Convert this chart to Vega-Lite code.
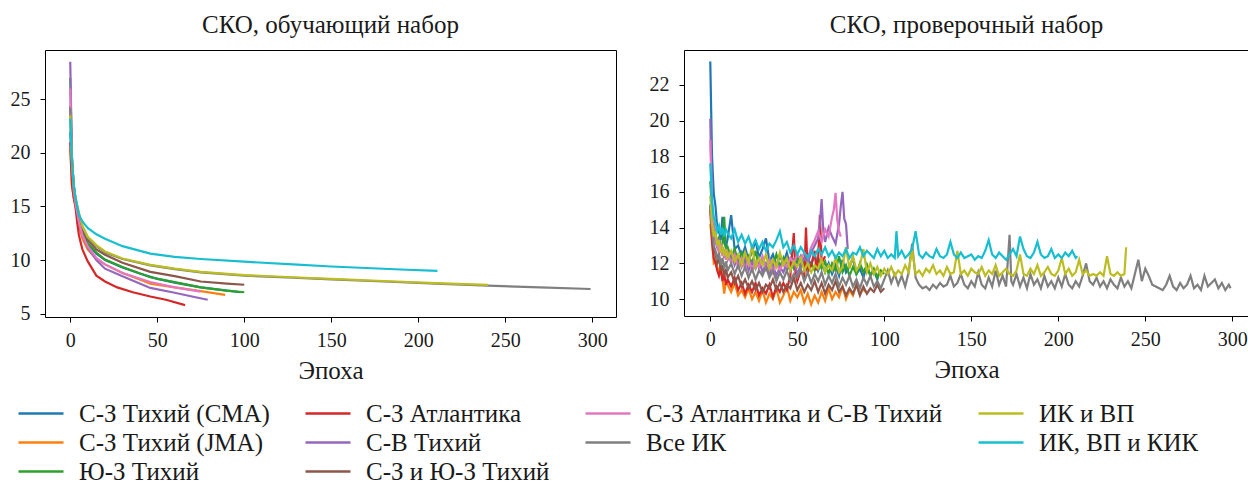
{
"$schema":"https://vega.github.io/schema/vega-lite/v6.json",
"padding":{"left":9,"top":12,"right":0,"bottom":0},
"background":"white",
"config":{
"font":"Liberation Serif, Times New Roman, Times, serif",
"view":{"stroke":"#000","strokeWidth":1},
"axis":{"grid":false,"domain":false,"tickColor":"#000","tickSize":5,"tickWidth":1,"labelFont":"Liberation Serif, Times New Roman, Times, serif","labelFontSize":20,"labelColor":"#1a1a1a","titleFont":"Liberation Serif, Times New Roman, Times, serif","titleFontSize":25,"titleFontWeight":"normal","titleColor":"#1a1a1a","titlePadding":8},
"axisX":{"labelPadding":8},
"axisY":{"labelPadding":10},
"title":{"font":"Liberation Serif, Times New Roman, Times, serif","fontSize":25,"fontWeight":"normal","color":"#1a1a1a","offset":12},
"legend":{"orient":"none","legendX":-28,"legendY":349,"direction":"horizontal","columns":4,"symbolType":"stroke","symbolSize":2025,"symbolStrokeWidth":2.5,"labelFont":"Liberation Serif, Times New Roman, Times, serif","labelFontSize":25,"labelColor":"#1a1a1a","labelOffset":14,"columnPadding":34,"rowPadding":0,"clipHeight":29,"labelLimit":500}
},
"datasets":{
"names":[{"s":"a","n":"С-З Тихий (CMA)"},{"s":"b","n":"С-З Тихий (JMA)"},{"s":"c","n":"Ю-З Тихий"},{"s":"d","n":"С-З Атлантика"},{"s":"e","n":"С-В Тихий"},{"s":"f","n":"С-З и Ю-З Тихий"},{"s":"g","n":"С-З Атлантика и С-В Тихий"},{"s":"h","n":"Все ИК"},{"s":"i","n":"ИК и ВП"},{"s":"j","n":"ИК, ВП и КИК"}],
"train":[
{"s":"a","x":0,"y":22.0},{"s":"a","x":1,"y":18.0},{"s":"a","x":2,"y":16.3},{"s":"a","x":3,"y":15.3},{"s":"a","x":5,"y":13.6},{"s":"a","x":7,"y":12.5},{"s":"a","x":10,"y":11.5},{"s":"a","x":15,"y":10.6},{"s":"a","x":20,"y":10.0},{"s":"a","x":30,"y":9.3},{"s":"a","x":40,"y":8.75},{"s":"a","x":50,"y":8.25},{"s":"a","x":60,"y":7.9},{"s":"a","x":75,"y":7.45},{"s":"a","x":90,"y":7.15},{"s":"a","x":98,"y":7.0},
{"s":"b","x":0,"y":20.4},{"s":"b","x":1,"y":17.0},{"s":"b","x":2,"y":15.8},{"s":"b","x":3,"y":15.0},{"s":"b","x":5,"y":13.2},{"s":"b","x":7,"y":12.0},{"s":"b","x":10,"y":11.0},{"s":"b","x":15,"y":10.1},{"s":"b","x":20,"y":9.6},{"s":"b","x":30,"y":8.8},{"s":"b","x":40,"y":8.2},{"s":"b","x":46,"y":7.8},{"s":"b","x":60,"y":7.45},{"s":"b","x":75,"y":7.1},{"s":"b","x":89,"y":6.75},
{"s":"c","x":0,"y":27.0},{"s":"c","x":1,"y":19.5},{"s":"c","x":2,"y":17.0},{"s":"c","x":3,"y":15.7},{"s":"c","x":5,"y":14.0},{"s":"c","x":7,"y":12.8},{"s":"c","x":10,"y":11.6},{"s":"c","x":15,"y":10.7},{"s":"c","x":20,"y":10.05},{"s":"c","x":30,"y":9.35},{"s":"c","x":46,"y":8.4},{"s":"c","x":60,"y":7.95},{"s":"c","x":75,"y":7.45},{"s":"c","x":90,"y":7.15},{"s":"c","x":100,"y":7.0},
{"s":"d","x":0,"y":21.0},{"s":"d","x":1,"y":17.0},{"s":"d","x":2,"y":15.8},{"s":"d","x":3,"y":15.0},{"s":"d","x":4,"y":13.5},{"s":"d","x":5,"y":12.3},{"s":"d","x":7,"y":11.0},{"s":"d","x":10,"y":9.9},{"s":"d","x":15,"y":8.55},{"s":"d","x":20,"y":8.0},{"s":"d","x":27,"y":7.45},{"s":"d","x":36,"y":7.0},{"s":"d","x":46,"y":6.6},{"s":"d","x":55,"y":6.3},{"s":"d","x":66,"y":5.8},
{"s":"e","x":0,"y":28.5},{"s":"e","x":1,"y":19.5},{"s":"e","x":2,"y":16.8},{"s":"e","x":3,"y":15.5},{"s":"e","x":5,"y":13.6},{"s":"e","x":7,"y":12.3},{"s":"e","x":10,"y":11.2},{"s":"e","x":15,"y":10.0},{"s":"e","x":20,"y":9.2},{"s":"e","x":30,"y":8.5},{"s":"e","x":46,"y":7.4},{"s":"e","x":60,"y":6.95},{"s":"e","x":70,"y":6.6},{"s":"e","x":79,"y":6.3},
{"s":"f","x":0,"y":24.4},{"s":"f","x":1,"y":19.0},{"s":"f","x":2,"y":16.8},{"s":"f","x":3,"y":15.6},{"s":"f","x":5,"y":14.0},{"s":"f","x":7,"y":12.9},{"s":"f","x":10,"y":11.9},{"s":"f","x":15,"y":11.0},{"s":"f","x":20,"y":10.5},{"s":"f","x":30,"y":9.75},{"s":"f","x":46,"y":8.9},{"s":"f","x":60,"y":8.5},{"s":"f","x":75,"y":8.0},{"s":"f","x":90,"y":7.8},{"s":"f","x":100,"y":7.7},
{"s":"g","x":0,"y":26.0},{"s":"g","x":1,"y":19.0},{"s":"g","x":2,"y":16.5},{"s":"g","x":3,"y":15.3},{"s":"g","x":5,"y":13.6},{"s":"g","x":7,"y":12.3},{"s":"g","x":10,"y":11.3},{"s":"g","x":15,"y":10.2},{"s":"g","x":20,"y":9.6},{"s":"g","x":30,"y":8.8},{"s":"g","x":46,"y":7.95},{"s":"g","x":60,"y":7.45},{"s":"g","x":75,"y":7.05},
{"s":"h","x":0,"y":24.2},{"s":"h","x":1,"y":19.5},{"s":"h","x":2,"y":17.0},{"s":"h","x":3,"y":15.8},{"s":"h","x":5,"y":14.3},{"s":"h","x":7,"y":13.1},{"s":"h","x":10,"y":12.1},{"s":"h","x":15,"y":11.3},{"s":"h","x":20,"y":10.7},{"s":"h","x":30,"y":10.1},{"s":"h","x":46,"y":9.5},{"s":"h","x":60,"y":9.15},{"s":"h","x":75,"y":8.85},{"s":"h","x":100,"y":8.55},{"s":"h","x":128,"y":8.35},{"s":"h","x":150,"y":8.2},{"s":"h","x":180,"y":8.0},{"s":"h","x":210,"y":7.8},{"s":"h","x":240,"y":7.62},{"s":"h","x":270,"y":7.45},{"s":"h","x":299,"y":7.3},
{"s":"i","x":0,"y":23.5},{"s":"i","x":1,"y":19.3},{"s":"i","x":2,"y":17.0},{"s":"i","x":3,"y":15.8},{"s":"i","x":5,"y":14.4},{"s":"i","x":7,"y":13.2},{"s":"i","x":10,"y":12.2},{"s":"i","x":15,"y":11.4},{"s":"i","x":20,"y":10.8},{"s":"i","x":30,"y":10.15},{"s":"i","x":46,"y":9.55},{"s":"i","x":60,"y":9.2},{"s":"i","x":75,"y":8.9},{"s":"i","x":100,"y":8.6},{"s":"i","x":128,"y":8.4},{"s":"i","x":150,"y":8.25},{"s":"i","x":180,"y":8.05},{"s":"i","x":210,"y":7.85},{"s":"i","x":240,"y":7.68},
{"s":"j","x":0,"y":23.2},{"s":"j","x":1,"y":19.0},{"s":"j","x":2,"y":17.0},{"s":"j","x":3,"y":15.8},{"s":"j","x":5,"y":14.2},{"s":"j","x":7,"y":13.6},{"s":"j","x":10,"y":13.0},{"s":"j","x":15,"y":12.4},{"s":"j","x":20,"y":12.0},{"s":"j","x":30,"y":11.3},{"s":"j","x":46,"y":10.6},{"s":"j","x":60,"y":10.3},{"s":"j","x":75,"y":10.1},{"s":"j","x":100,"y":9.85},{"s":"j","x":128,"y":9.6},{"s":"j","x":150,"y":9.4},{"s":"j","x":170,"y":9.26},{"s":"j","x":190,"y":9.12},{"s":"j","x":211,"y":9.0}
],
"val":[
{"s":"a","x":0,"y":23.3},{"s":"a","x":1,"y":18.0},{"s":"a","x":2,"y":15.9},{"s":"a","x":3,"y":15.2},{"s":"a","x":4,"y":14.0},{"s":"a","x":5,"y":13.8},{"s":"a","x":6,"y":13.3},{"s":"a","x":7,"y":14.6},{"s":"a","x":8,"y":13.2},{"s":"a","x":9,"y":12.9},{"s":"a","x":10,"y":13.4},{"s":"a","x":12,"y":14.7},{"s":"a","x":14,"y":12.8},{"s":"a","x":16,"y":13.0},{"s":"a","x":18,"y":12.4},{"s":"a","x":20,"y":12.9},{"s":"a","x":22,"y":12.2},{"s":"a","x":24,"y":12.6},{"s":"a","x":26,"y":13.3},{"s":"a","x":28,"y":12.3},{"s":"a","x":30,"y":12.8},{"s":"a","x":32,"y":13.4},{"s":"a","x":34,"y":12.1},{"s":"a","x":36,"y":12.5},{"s":"a","x":38,"y":11.9},{"s":"a","x":40,"y":12.4},{"s":"a","x":42,"y":12.0},{"s":"a","x":44,"y":12.6},{"s":"a","x":46,"y":11.8},{"s":"a","x":48,"y":12.2},{"s":"a","x":50,"y":12.0},{"s":"a","x":52,"y":12.4},{"s":"a","x":54,"y":11.7},{"s":"a","x":56,"y":12.3},{"s":"a","x":58,"y":11.9},{"s":"a","x":60,"y":12.5},{"s":"a","x":62,"y":11.6},{"s":"a","x":64,"y":12.1},{"s":"a","x":66,"y":11.5},{"s":"a","x":68,"y":12.0},{"s":"a","x":70,"y":11.4},{"s":"a","x":72,"y":11.9},{"s":"a","x":74,"y":11.3},{"s":"a","x":76,"y":12.2},{"s":"a","x":78,"y":11.5},{"s":"a","x":80,"y":11.8},{"s":"a","x":82,"y":12.3},{"s":"a","x":84,"y":11.4},{"s":"a","x":86,"y":11.7},{"s":"a","x":88,"y":11.2},{"s":"a","x":90,"y":11.9},{"s":"a","x":92,"y":11.3},{"s":"a","x":94,"y":11.6},{"s":"a","x":96,"y":11.1},{"s":"a","x":97,"y":11.5},
{"s":"b","x":0,"y":14.2},{"s":"b","x":1,"y":13.3},{"s":"b","x":2,"y":12.0},{"s":"b","x":3,"y":12.1},{"s":"b","x":4,"y":11.8},{"s":"b","x":5,"y":11.5},{"s":"b","x":6,"y":11.9},{"s":"b","x":7,"y":11.2},{"s":"b","x":8,"y":10.3},{"s":"b","x":9,"y":11.0},{"s":"b","x":10,"y":10.8},{"s":"b","x":12,"y":10.4},{"s":"b","x":14,"y":10.9},{"s":"b","x":16,"y":10.2},{"s":"b","x":18,"y":10.5},{"s":"b","x":20,"y":10.1},{"s":"b","x":22,"y":10.6},{"s":"b","x":24,"y":10.0},{"s":"b","x":26,"y":10.4},{"s":"b","x":28,"y":9.9},{"s":"b","x":30,"y":10.5},{"s":"b","x":32,"y":9.8},{"s":"b","x":34,"y":10.3},{"s":"b","x":36,"y":10.0},{"s":"b","x":38,"y":10.6},{"s":"b","x":40,"y":9.8},{"s":"b","x":42,"y":10.2},{"s":"b","x":44,"y":10.7},{"s":"b","x":46,"y":9.9},{"s":"b","x":48,"y":10.4},{"s":"b","x":50,"y":10.1},{"s":"b","x":52,"y":10.5},{"s":"b","x":54,"y":9.8},{"s":"b","x":56,"y":10.3},{"s":"b","x":58,"y":9.7},{"s":"b","x":60,"y":10.2},{"s":"b","x":62,"y":9.8},{"s":"b","x":64,"y":10.4},{"s":"b","x":66,"y":9.9},{"s":"b","x":68,"y":10.6},{"s":"b","x":70,"y":10.0},{"s":"b","x":72,"y":10.4},{"s":"b","x":74,"y":10.1},{"s":"b","x":76,"y":10.7},{"s":"b","x":78,"y":10.0},{"s":"b","x":80,"y":10.5},{"s":"b","x":82,"y":10.2},{"s":"b","x":84,"y":10.8},{"s":"b","x":86,"y":10.3},{"s":"b","x":88,"y":10.6},{"s":"b","x":89,"y":10.4},
{"s":"c","x":0,"y":16.6},{"s":"c","x":1,"y":15.0},{"s":"c","x":2,"y":14.2},{"s":"c","x":3,"y":13.6},{"s":"c","x":4,"y":13.0},{"s":"c","x":5,"y":13.5},{"s":"c","x":6,"y":12.8},{"s":"c","x":7,"y":13.1},{"s":"c","x":8,"y":14.6},{"s":"c","x":9,"y":12.7},{"s":"c","x":10,"y":12.9},{"s":"c","x":12,"y":12.3},{"s":"c","x":14,"y":12.8},{"s":"c","x":16,"y":12.1},{"s":"c","x":18,"y":12.6},{"s":"c","x":20,"y":11.9},{"s":"c","x":22,"y":12.4},{"s":"c","x":24,"y":12.0},{"s":"c","x":26,"y":12.7},{"s":"c","x":28,"y":11.8},{"s":"c","x":30,"y":12.3},{"s":"c","x":32,"y":11.7},{"s":"c","x":34,"y":12.2},{"s":"c","x":36,"y":11.9},{"s":"c","x":38,"y":12.5},{"s":"c","x":40,"y":11.8},{"s":"c","x":42,"y":12.3},{"s":"c","x":44,"y":11.6},{"s":"c","x":46,"y":12.1},{"s":"c","x":48,"y":11.7},{"s":"c","x":50,"y":12.4},{"s":"c","x":52,"y":11.8},{"s":"c","x":54,"y":12.2},{"s":"c","x":56,"y":11.5},{"s":"c","x":58,"y":12.0},{"s":"c","x":60,"y":11.6},{"s":"c","x":62,"y":12.3},{"s":"c","x":64,"y":11.7},{"s":"c","x":66,"y":12.1},{"s":"c","x":68,"y":11.4},{"s":"c","x":70,"y":12.0},{"s":"c","x":72,"y":11.6},{"s":"c","x":74,"y":12.4},{"s":"c","x":76,"y":11.5},{"s":"c","x":78,"y":11.9},{"s":"c","x":80,"y":11.3},{"s":"c","x":82,"y":11.8},{"s":"c","x":84,"y":11.4},{"s":"c","x":86,"y":12.0},{"s":"c","x":88,"y":11.5},{"s":"c","x":90,"y":11.9},{"s":"c","x":92,"y":11.3},{"s":"c","x":94,"y":11.7},{"s":"c","x":96,"y":11.2},{"s":"c","x":98,"y":11.6},{"s":"c","x":100,"y":11.4},
{"s":"d","x":0,"y":15.0},{"s":"d","x":1,"y":13.2},{"s":"d","x":2,"y":12.3},{"s":"d","x":3,"y":12.0},{"s":"d","x":4,"y":11.6},{"s":"d","x":5,"y":11.3},{"s":"d","x":6,"y":11.7},{"s":"d","x":7,"y":11.0},{"s":"d","x":8,"y":11.4},{"s":"d","x":9,"y":10.8},{"s":"d","x":10,"y":11.1},{"s":"d","x":12,"y":10.7},{"s":"d","x":14,"y":11.2},{"s":"d","x":16,"y":10.5},{"s":"d","x":18,"y":10.9},{"s":"d","x":20,"y":10.3},{"s":"d","x":22,"y":10.8},{"s":"d","x":24,"y":10.4},{"s":"d","x":26,"y":10.9},{"s":"d","x":28,"y":10.2},{"s":"d","x":30,"y":10.6},{"s":"d","x":32,"y":10.3},{"s":"d","x":34,"y":10.8},{"s":"d","x":36,"y":10.1},{"s":"d","x":38,"y":10.7},{"s":"d","x":40,"y":10.4},{"s":"d","x":42,"y":10.9},{"s":"d","x":44,"y":10.5},{"s":"d","x":46,"y":11.3},{"s":"d","x":48,"y":13.7},{"s":"d","x":49,"y":11.4},{"s":"d","x":50,"y":11.0},{"s":"d","x":52,"y":11.6},{"s":"d","x":54,"y":11.2},{"s":"d","x":55,"y":14.0},{"s":"d","x":56,"y":11.5},{"s":"d","x":58,"y":11.9},{"s":"d","x":60,"y":12.7},{"s":"d","x":61,"y":11.6},{"s":"d","x":62,"y":12.2},{"s":"d","x":63,"y":14.7},{"s":"d","x":64,"y":12.0},{"s":"d","x":66,"y":12.4},
{"s":"e","x":0,"y":20.1},{"s":"e","x":1,"y":15.0},{"s":"e","x":2,"y":13.8},{"s":"e","x":3,"y":13.2},{"s":"e","x":4,"y":12.9},{"s":"e","x":5,"y":13.4},{"s":"e","x":6,"y":12.6},{"s":"e","x":7,"y":12.9},{"s":"e","x":8,"y":12.3},{"s":"e","x":9,"y":12.7},{"s":"e","x":10,"y":12.2},{"s":"e","x":12,"y":12.6},{"s":"e","x":14,"y":11.9},{"s":"e","x":16,"y":12.4},{"s":"e","x":18,"y":11.8},{"s":"e","x":20,"y":12.3},{"s":"e","x":22,"y":11.6},{"s":"e","x":24,"y":12.1},{"s":"e","x":26,"y":11.7},{"s":"e","x":28,"y":12.2},{"s":"e","x":30,"y":11.5},{"s":"e","x":32,"y":12.0},{"s":"e","x":34,"y":11.4},{"s":"e","x":36,"y":11.9},{"s":"e","x":38,"y":11.3},{"s":"e","x":40,"y":11.8},{"s":"e","x":42,"y":11.5},{"s":"e","x":44,"y":12.0},{"s":"e","x":46,"y":11.6},{"s":"e","x":48,"y":12.1},{"s":"e","x":50,"y":11.4},{"s":"e","x":52,"y":11.9},{"s":"e","x":54,"y":12.3},{"s":"e","x":56,"y":12.0},{"s":"e","x":58,"y":12.6},{"s":"e","x":60,"y":13.0},{"s":"e","x":62,"y":13.4},{"s":"e","x":63,"y":14.2},{"s":"e","x":64,"y":15.6},{"s":"e","x":65,"y":13.7},{"s":"e","x":66,"y":13.2},{"s":"e","x":68,"y":14.0},{"s":"e","x":70,"y":13.5},{"s":"e","x":72,"y":13.1},{"s":"e","x":74,"y":14.2},{"s":"e","x":75,"y":15.2},{"s":"e","x":76,"y":16.0},{"s":"e","x":77,"y":14.5},{"s":"e","x":78,"y":14.2},{"s":"e","x":79,"y":12.8},
{"s":"f","x":0,"y":15.3},{"s":"f","x":1,"y":13.8},{"s":"f","x":2,"y":12.8},{"s":"f","x":3,"y":12.5},{"s":"f","x":4,"y":12.0},{"s":"f","x":5,"y":12.3},{"s":"f","x":6,"y":11.6},{"s":"f","x":7,"y":11.9},{"s":"f","x":8,"y":11.3},{"s":"f","x":9,"y":11.7},{"s":"f","x":10,"y":11.2},{"s":"f","x":12,"y":11.5},{"s":"f","x":14,"y":10.9},{"s":"f","x":16,"y":11.3},{"s":"f","x":18,"y":10.7},{"s":"f","x":20,"y":11.1},{"s":"f","x":22,"y":10.6},{"s":"f","x":24,"y":11.0},{"s":"f","x":26,"y":10.5},{"s":"f","x":28,"y":10.9},{"s":"f","x":30,"y":10.4},{"s":"f","x":32,"y":10.8},{"s":"f","x":34,"y":10.6},{"s":"f","x":36,"y":11.1},{"s":"f","x":38,"y":10.5},{"s":"f","x":40,"y":10.9},{"s":"f","x":42,"y":10.4},{"s":"f","x":44,"y":10.8},{"s":"f","x":46,"y":10.6},{"s":"f","x":48,"y":11.2},{"s":"f","x":50,"y":10.5},{"s":"f","x":52,"y":10.9},{"s":"f","x":54,"y":10.4},{"s":"f","x":56,"y":10.8},{"s":"f","x":58,"y":10.5},{"s":"f","x":60,"y":11.0},{"s":"f","x":62,"y":10.4},{"s":"f","x":64,"y":10.9},{"s":"f","x":66,"y":10.3},{"s":"f","x":68,"y":10.8},{"s":"f","x":70,"y":10.5},{"s":"f","x":72,"y":11.0},{"s":"f","x":74,"y":10.4},{"s":"f","x":76,"y":10.7},{"s":"f","x":78,"y":10.2},{"s":"f","x":80,"y":10.6},{"s":"f","x":82,"y":10.3},{"s":"f","x":84,"y":10.8},{"s":"f","x":86,"y":10.2},{"s":"f","x":88,"y":10.7},{"s":"f","x":90,"y":10.3},{"s":"f","x":92,"y":10.6},{"s":"f","x":94,"y":10.4},{"s":"f","x":96,"y":10.8},{"s":"f","x":98,"y":10.4},{"s":"f","x":100,"y":10.6},
{"s":"g","x":0,"y":18.9},{"s":"g","x":1,"y":15.5},{"s":"g","x":2,"y":14.0},{"s":"g","x":3,"y":13.4},{"s":"g","x":4,"y":13.0},{"s":"g","x":5,"y":12.6},{"s":"g","x":6,"y":13.1},{"s":"g","x":7,"y":12.4},{"s":"g","x":8,"y":12.8},{"s":"g","x":9,"y":12.2},{"s":"g","x":10,"y":12.6},{"s":"g","x":12,"y":12.0},{"s":"g","x":14,"y":12.5},{"s":"g","x":16,"y":11.8},{"s":"g","x":18,"y":12.3},{"s":"g","x":20,"y":11.7},{"s":"g","x":22,"y":12.2},{"s":"g","x":24,"y":11.6},{"s":"g","x":26,"y":12.1},{"s":"g","x":28,"y":11.8},{"s":"g","x":30,"y":12.4},{"s":"g","x":32,"y":11.7},{"s":"g","x":34,"y":12.2},{"s":"g","x":36,"y":11.5},{"s":"g","x":38,"y":12.0},{"s":"g","x":40,"y":11.6},{"s":"g","x":42,"y":12.1},{"s":"g","x":44,"y":11.8},{"s":"g","x":46,"y":12.3},{"s":"g","x":48,"y":12.0},{"s":"g","x":50,"y":12.5},{"s":"g","x":52,"y":12.2},{"s":"g","x":54,"y":12.6},{"s":"g","x":56,"y":12.3},{"s":"g","x":58,"y":12.9},{"s":"g","x":60,"y":13.3},{"s":"g","x":62,"y":13.8},{"s":"g","x":64,"y":13.2},{"s":"g","x":66,"y":13.9},{"s":"g","x":68,"y":13.5},{"s":"g","x":70,"y":14.6},{"s":"g","x":71,"y":15.0},{"s":"g","x":72,"y":15.95},{"s":"g","x":73,"y":14.4},{"s":"g","x":74,"y":13.8},{"s":"g","x":75,"y":13.5},
{"s":"h","x":0,"y":15.2},{"s":"h","x":1,"y":13.9},{"s":"h","x":2,"y":13.0},{"s":"h","x":3,"y":12.7},{"s":"h","x":4,"y":12.2},{"s":"h","x":5,"y":12.6},{"s":"h","x":6,"y":11.9},{"s":"h","x":7,"y":12.3},{"s":"h","x":8,"y":11.7},{"s":"h","x":9,"y":12.1},{"s":"h","x":10,"y":11.6},{"s":"h","x":12,"y":12.0},{"s":"h","x":14,"y":11.4},{"s":"h","x":16,"y":11.9},{"s":"h","x":18,"y":11.3},{"s":"h","x":20,"y":11.8},{"s":"h","x":22,"y":11.2},{"s":"h","x":24,"y":11.7},{"s":"h","x":26,"y":11.1},{"s":"h","x":28,"y":11.6},{"s":"h","x":30,"y":11.3},{"s":"h","x":32,"y":11.8},{"s":"h","x":34,"y":11.2},{"s":"h","x":36,"y":11.6},{"s":"h","x":38,"y":11.0},{"s":"h","x":40,"y":11.5},{"s":"h","x":42,"y":11.1},{"s":"h","x":44,"y":11.6},{"s":"h","x":46,"y":11.0},{"s":"h","x":48,"y":11.4},{"s":"h","x":50,"y":11.2},{"s":"h","x":52,"y":11.7},{"s":"h","x":54,"y":11.0},{"s":"h","x":56,"y":11.5},{"s":"h","x":58,"y":10.9},{"s":"h","x":60,"y":11.4},{"s":"h","x":62,"y":11.0},{"s":"h","x":64,"y":11.5},{"s":"h","x":66,"y":10.8},{"s":"h","x":68,"y":11.3},{"s":"h","x":70,"y":10.9},{"s":"h","x":72,"y":11.4},{"s":"h","x":74,"y":10.7},{"s":"h","x":76,"y":11.2},{"s":"h","x":78,"y":10.8},{"s":"h","x":80,"y":11.3},{"s":"h","x":82,"y":10.7},{"s":"h","x":84,"y":11.1},{"s":"h","x":86,"y":10.6},{"s":"h","x":88,"y":11.2},{"s":"h","x":90,"y":10.8},{"s":"h","x":92,"y":11.3},{"s":"h","x":94,"y":10.7},{"s":"h","x":96,"y":11.0},{"s":"h","x":98,"y":10.6},{"s":"h","x":100,"y":11.1},{"s":"h","x":102,"y":11.6},{"s":"h","x":104,"y":10.9},{"s":"h","x":106,"y":11.4},{"s":"h","x":108,"y":10.8},{"s":"h","x":110,"y":11.3},{"s":"h","x":112,"y":10.7},{"s":"h","x":114,"y":11.5},{"s":"h","x":116,"y":13.1},{"s":"h","x":118,"y":11.2},{"s":"h","x":120,"y":10.8},{"s":"h","x":122,"y":10.6},{"s":"h","x":124,"y":10.7},{"s":"h","x":126,"y":10.5},{"s":"h","x":128,"y":10.8},{"s":"h","x":130,"y":10.6},{"s":"h","x":132,"y":10.9},{"s":"h","x":134,"y":10.7},{"s":"h","x":136,"y":10.8},{"s":"h","x":138,"y":11.3},{"s":"h","x":140,"y":10.7},{"s":"h","x":142,"y":10.9},{"s":"h","x":144,"y":11.4},{"s":"h","x":146,"y":10.8},{"s":"h","x":148,"y":10.6},{"s":"h","x":150,"y":11.0},{"s":"h","x":152,"y":10.7},{"s":"h","x":154,"y":11.5},{"s":"h","x":156,"y":10.8},{"s":"h","x":158,"y":10.6},{"s":"h","x":160,"y":11.2},{"s":"h","x":162,"y":10.7},{"s":"h","x":164,"y":11.6},{"s":"h","x":166,"y":10.8},{"s":"h","x":168,"y":11.3},{"s":"h","x":170,"y":10.7},{"s":"h","x":172,"y":13.6},{"s":"h","x":173,"y":11.0},{"s":"h","x":174,"y":10.8},{"s":"h","x":176,"y":11.4},{"s":"h","x":178,"y":10.7},{"s":"h","x":180,"y":11.2},{"s":"h","x":182,"y":10.6},{"s":"h","x":184,"y":11.4},{"s":"h","x":186,"y":10.8},{"s":"h","x":188,"y":11.1},{"s":"h","x":190,"y":10.6},{"s":"h","x":192,"y":11.3},{"s":"h","x":194,"y":10.7},{"s":"h","x":196,"y":11.0},{"s":"h","x":198,"y":10.6},{"s":"h","x":200,"y":11.2},{"s":"h","x":202,"y":10.7},{"s":"h","x":204,"y":11.4},{"s":"h","x":206,"y":10.8},{"s":"h","x":208,"y":10.6},{"s":"h","x":210,"y":11.0},{"s":"h","x":212,"y":10.7},{"s":"h","x":214,"y":11.3},{"s":"h","x":216,"y":12.0},{"s":"h","x":218,"y":11.0},{"s":"h","x":220,"y":10.8},{"s":"h","x":222,"y":11.2},{"s":"h","x":224,"y":10.7},{"s":"h","x":226,"y":11.0},{"s":"h","x":228,"y":10.6},{"s":"h","x":230,"y":11.1},{"s":"h","x":232,"y":10.8},{"s":"h","x":234,"y":10.6},{"s":"h","x":236,"y":11.2},{"s":"h","x":238,"y":10.7},{"s":"h","x":240,"y":11.0},{"s":"h","x":242,"y":10.6},{"s":"h","x":244,"y":11.4},{"s":"h","x":246,"y":12.2},{"s":"h","x":248,"y":11.0},{"s":"h","x":250,"y":11.7},{"s":"h","x":252,"y":11.3},{"s":"h","x":254,"y":10.8},{"s":"h","x":256,"y":10.7},{"s":"h","x":258,"y":10.6},{"s":"h","x":260,"y":10.5},{"s":"h","x":262,"y":10.8},{"s":"h","x":264,"y":11.3},{"s":"h","x":266,"y":10.7},{"s":"h","x":268,"y":10.5},{"s":"h","x":270,"y":10.9},{"s":"h","x":272,"y":10.6},{"s":"h","x":274,"y":10.8},{"s":"h","x":276,"y":11.3},{"s":"h","x":278,"y":10.6},{"s":"h","x":280,"y":10.8},{"s":"h","x":282,"y":10.5},{"s":"h","x":284,"y":11.3},{"s":"h","x":286,"y":10.7},{"s":"h","x":288,"y":10.9},{"s":"h","x":290,"y":11.1},{"s":"h","x":292,"y":10.6},{"s":"h","x":294,"y":10.9},{"s":"h","x":296,"y":10.5},{"s":"h","x":298,"y":10.8},{"s":"h","x":299,"y":10.6},
{"s":"i","x":0,"y":15.8},{"s":"i","x":1,"y":14.2},{"s":"i","x":2,"y":13.5},{"s":"i","x":3,"y":13.8},{"s":"i","x":4,"y":13.0},{"s":"i","x":5,"y":13.3},{"s":"i","x":6,"y":12.6},{"s":"i","x":7,"y":12.9},{"s":"i","x":8,"y":12.4},{"s":"i","x":9,"y":12.8},{"s":"i","x":10,"y":12.3},{"s":"i","x":12,"y":12.7},{"s":"i","x":14,"y":12.1},{"s":"i","x":16,"y":12.5},{"s":"i","x":18,"y":11.9},{"s":"i","x":20,"y":12.6},{"s":"i","x":22,"y":12.0},{"s":"i","x":24,"y":13.0},{"s":"i","x":26,"y":11.8},{"s":"i","x":28,"y":12.3},{"s":"i","x":30,"y":11.9},{"s":"i","x":32,"y":12.5},{"s":"i","x":34,"y":11.7},{"s":"i","x":36,"y":12.2},{"s":"i","x":38,"y":11.8},{"s":"i","x":40,"y":12.6},{"s":"i","x":42,"y":11.9},{"s":"i","x":44,"y":12.3},{"s":"i","x":46,"y":11.6},{"s":"i","x":48,"y":12.1},{"s":"i","x":50,"y":11.8},{"s":"i","x":52,"y":12.3},{"s":"i","x":54,"y":11.6},{"s":"i","x":56,"y":12.0},{"s":"i","x":58,"y":11.5},{"s":"i","x":60,"y":11.9},{"s":"i","x":62,"y":11.7},{"s":"i","x":64,"y":12.2},{"s":"i","x":66,"y":11.5},{"s":"i","x":68,"y":11.9},{"s":"i","x":70,"y":11.6},{"s":"i","x":72,"y":12.3},{"s":"i","x":74,"y":11.5},{"s":"i","x":76,"y":11.8},{"s":"i","x":78,"y":12.9},{"s":"i","x":80,"y":11.7},{"s":"i","x":82,"y":12.4},{"s":"i","x":84,"y":11.6},{"s":"i","x":86,"y":11.9},{"s":"i","x":88,"y":12.8},{"s":"i","x":90,"y":11.5},{"s":"i","x":92,"y":12.0},{"s":"i","x":94,"y":11.4},{"s":"i","x":96,"y":11.8},{"s":"i","x":98,"y":11.3},{"s":"i","x":100,"y":11.7},{"s":"i","x":102,"y":11.4},{"s":"i","x":104,"y":11.8},{"s":"i","x":106,"y":11.3},{"s":"i","x":108,"y":11.6},{"s":"i","x":110,"y":11.4},{"s":"i","x":112,"y":11.9},{"s":"i","x":114,"y":11.5},{"s":"i","x":116,"y":12.8},{"s":"i","x":118,"y":11.4},{"s":"i","x":120,"y":11.6},{"s":"i","x":122,"y":11.3},{"s":"i","x":124,"y":11.7},{"s":"i","x":126,"y":11.5},{"s":"i","x":128,"y":11.9},{"s":"i","x":130,"y":11.4},{"s":"i","x":132,"y":11.6},{"s":"i","x":134,"y":11.3},{"s":"i","x":136,"y":11.8},{"s":"i","x":138,"y":11.4},{"s":"i","x":140,"y":11.5},{"s":"i","x":142,"y":12.7},{"s":"i","x":144,"y":11.4},{"s":"i","x":146,"y":11.6},{"s":"i","x":148,"y":11.3},{"s":"i","x":150,"y":11.7},{"s":"i","x":152,"y":11.5},{"s":"i","x":154,"y":11.4},{"s":"i","x":156,"y":11.8},{"s":"i","x":158,"y":11.3},{"s":"i","x":160,"y":11.6},{"s":"i","x":162,"y":11.4},{"s":"i","x":164,"y":11.9},{"s":"i","x":166,"y":11.3},{"s":"i","x":168,"y":11.5},{"s":"i","x":170,"y":11.7},{"s":"i","x":172,"y":11.4},{"s":"i","x":174,"y":11.3},{"s":"i","x":176,"y":11.6},{"s":"i","x":178,"y":12.5},{"s":"i","x":180,"y":11.4},{"s":"i","x":182,"y":11.3},{"s":"i","x":184,"y":11.7},{"s":"i","x":186,"y":11.4},{"s":"i","x":188,"y":11.9},{"s":"i","x":190,"y":11.3},{"s":"i","x":192,"y":11.5},{"s":"i","x":194,"y":11.8},{"s":"i","x":196,"y":11.4},{"s":"i","x":198,"y":11.3},{"s":"i","x":200,"y":11.6},{"s":"i","x":202,"y":12.3},{"s":"i","x":204,"y":11.4},{"s":"i","x":206,"y":11.7},{"s":"i","x":208,"y":11.3},{"s":"i","x":210,"y":11.5},{"s":"i","x":212,"y":12.2},{"s":"i","x":214,"y":11.4},{"s":"i","x":216,"y":11.6},{"s":"i","x":218,"y":11.3},{"s":"i","x":220,"y":11.4},{"s":"i","x":222,"y":11.3},{"s":"i","x":224,"y":11.5},{"s":"i","x":226,"y":11.3},{"s":"i","x":228,"y":12.4},{"s":"i","x":230,"y":11.4},{"s":"i","x":232,"y":11.3},{"s":"i","x":234,"y":11.5},{"s":"i","x":236,"y":11.3},{"s":"i","x":238,"y":11.4},{"s":"i","x":239,"y":12.9},
{"s":"j","x":0,"y":17.6},{"s":"j","x":1,"y":15.5},{"s":"j","x":2,"y":14.6},{"s":"j","x":3,"y":14.3},{"s":"j","x":4,"y":13.8},{"s":"j","x":5,"y":14.1},{"s":"j","x":6,"y":13.6},{"s":"j","x":7,"y":14.0},{"s":"j","x":8,"y":13.5},{"s":"j","x":9,"y":13.9},{"s":"j","x":10,"y":13.7},{"s":"j","x":12,"y":13.4},{"s":"j","x":14,"y":13.9},{"s":"j","x":16,"y":13.2},{"s":"j","x":18,"y":13.6},{"s":"j","x":20,"y":13.1},{"s":"j","x":22,"y":13.5},{"s":"j","x":24,"y":12.9},{"s":"j","x":26,"y":13.3},{"s":"j","x":28,"y":12.8},{"s":"j","x":30,"y":13.2},{"s":"j","x":32,"y":12.7},{"s":"j","x":34,"y":13.1},{"s":"j","x":36,"y":12.9},{"s":"j","x":38,"y":13.3},{"s":"j","x":40,"y":13.8},{"s":"j","x":42,"y":12.9},{"s":"j","x":44,"y":13.2},{"s":"j","x":46,"y":12.6},{"s":"j","x":48,"y":13.0},{"s":"j","x":50,"y":12.5},{"s":"j","x":52,"y":12.9},{"s":"j","x":54,"y":12.6},{"s":"j","x":56,"y":12.3},{"s":"j","x":58,"y":12.7},{"s":"j","x":60,"y":12.4},{"s":"j","x":62,"y":12.8},{"s":"j","x":64,"y":12.5},{"s":"j","x":66,"y":12.9},{"s":"j","x":68,"y":12.4},{"s":"j","x":70,"y":12.7},{"s":"j","x":72,"y":12.3},{"s":"j","x":74,"y":12.6},{"s":"j","x":76,"y":12.4},{"s":"j","x":78,"y":12.8},{"s":"j","x":80,"y":12.3},{"s":"j","x":82,"y":12.6},{"s":"j","x":84,"y":12.5},{"s":"j","x":86,"y":12.9},{"s":"j","x":88,"y":12.4},{"s":"j","x":90,"y":12.7},{"s":"j","x":92,"y":12.5},{"s":"j","x":94,"y":12.3},{"s":"j","x":96,"y":12.8},{"s":"j","x":98,"y":12.4},{"s":"j","x":100,"y":12.7},{"s":"j","x":102,"y":12.3},{"s":"j","x":104,"y":12.5},{"s":"j","x":106,"y":12.3},{"s":"j","x":107,"y":13.8},{"s":"j","x":108,"y":12.4},{"s":"j","x":110,"y":12.7},{"s":"j","x":112,"y":12.3},{"s":"j","x":114,"y":12.5},{"s":"j","x":116,"y":12.8},{"s":"j","x":118,"y":13.8},{"s":"j","x":120,"y":12.5},{"s":"j","x":122,"y":12.3},{"s":"j","x":124,"y":12.6},{"s":"j","x":126,"y":12.4},{"s":"j","x":128,"y":12.3},{"s":"j","x":130,"y":12.8},{"s":"j","x":132,"y":12.4},{"s":"j","x":134,"y":12.3},{"s":"j","x":136,"y":12.5},{"s":"j","x":138,"y":13.2},{"s":"j","x":140,"y":12.5},{"s":"j","x":142,"y":12.3},{"s":"j","x":144,"y":12.6},{"s":"j","x":146,"y":12.3},{"s":"j","x":148,"y":12.4},{"s":"j","x":150,"y":12.5},{"s":"j","x":152,"y":12.2},{"s":"j","x":154,"y":12.4},{"s":"j","x":156,"y":12.3},{"s":"j","x":158,"y":12.7},{"s":"j","x":160,"y":13.3},{"s":"j","x":162,"y":12.5},{"s":"j","x":164,"y":12.3},{"s":"j","x":166,"y":12.6},{"s":"j","x":168,"y":12.4},{"s":"j","x":170,"y":12.2},{"s":"j","x":172,"y":12.5},{"s":"j","x":174,"y":12.8},{"s":"j","x":176,"y":12.4},{"s":"j","x":178,"y":13.5},{"s":"j","x":180,"y":12.8},{"s":"j","x":182,"y":12.4},{"s":"j","x":184,"y":12.3},{"s":"j","x":186,"y":12.6},{"s":"j","x":188,"y":13.2},{"s":"j","x":190,"y":12.5},{"s":"j","x":192,"y":12.3},{"s":"j","x":194,"y":12.4},{"s":"j","x":196,"y":12.8},{"s":"j","x":198,"y":12.3},{"s":"j","x":200,"y":12.5},{"s":"j","x":202,"y":12.3},{"s":"j","x":204,"y":12.6},{"s":"j","x":206,"y":12.4},{"s":"j","x":208,"y":12.7},{"s":"j","x":210,"y":12.3},{"s":"j","x":211,"y":12.4}
]
},
"spacing":31,
"hconcat":[
{"title":"СКО, обучающий набор","width":571,"height":267,"data":{"name":"train"},
"transform":[{"lookup":"s","from":{"data":{"name":"names"},"key":"s","fields":["n"]}}],
"mark":{"type":"line","strokeWidth":2.2},
"encoding":{
"x":{"field":"x","type":"quantitative","scale":{"domain":[-14.5,313.6],"nice":false,"zero":false},"axis":{"values":[0,50,100,150,200,250,300],"title":"Эпоха"}},
"y":{"field":"y","type":"quantitative","scale":{"domain":[4.69,29.6],"nice":false,"zero":false},"axis":{"values":[5,10,15,20,25],"title":null}},
"color":{"field":"n","type":"nominal","scale":{"domain":["С-З Тихий (CMA)","С-З Атлантика","С-З Атлантика и С-В Тихий","ИК и ВП","С-З Тихий (JMA)","С-В Тихий","Все ИК","ИК, ВП и КИК","Ю-З Тихий","С-З и Ю-З Тихий"],"range":["#1f77b4","#d62728","#e377c2","#bcbd22","#ff7f0e","#9467bd","#7f7f7f","#17becf","#2ca02c","#8c564b"]},"legend":{"title":null}}
}},
{"title":"СКО, проверочный набор","width":565,"height":266,"data":{"name":"val"},
"transform":[{"lookup":"s","from":{"data":{"name":"names"},"key":"s","fields":["n"]}}],
"mark":{"type":"line","strokeWidth":2.2},
"encoding":{
"x":{"field":"x","type":"quantitative","scale":{"domain":[-15.1,309.6],"nice":false,"zero":false},"axis":{"values":[0,50,100,150,200,250,300],"title":"Эпоха"}},
"y":{"field":"y","type":"quantitative","scale":{"domain":[9.05,23.95],"nice":false,"zero":false},"axis":{"values":[10,12,14,16,18,20,22],"title":null}},
"color":{"field":"n","type":"nominal","scale":{"domain":["С-З Тихий (CMA)","С-З Атлантика","С-З Атлантика и С-В Тихий","ИК и ВП","С-З Тихий (JMA)","С-В Тихий","Все ИК","ИК, ВП и КИК","Ю-З Тихий","С-З и Ю-З Тихий"],"range":["#1f77b4","#d62728","#e377c2","#bcbd22","#ff7f0e","#9467bd","#7f7f7f","#17becf","#2ca02c","#8c564b"]},"legend":{"title":null}}
}}
]
}
